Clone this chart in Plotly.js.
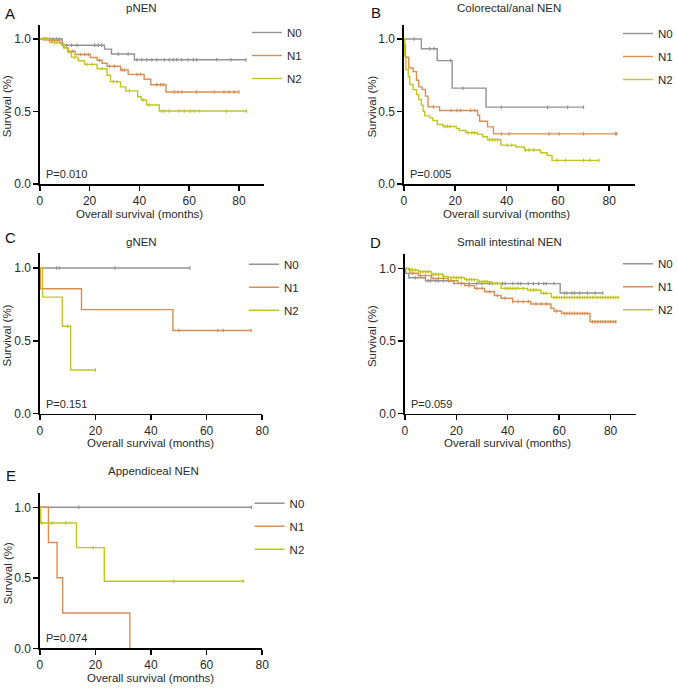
<!DOCTYPE html>
<html>
<head>
<meta charset="utf-8">
<script src="https://cdn.plot.ly/plotly-3.0.1.min.js"></script>
<style>
  html, body { margin: 0; padding: 0; background: #fff; }
  #chart { width: 678px; height: 688px; }
</style>
</head>
<body>
<div id="chart"></div>
<script>
// Kaplan-Meier curves by N stage, five NEN sites.
// Each curve: step times (months), survival from that time on, and censor times.
// The last t/s pair is the end of follow-up.

// --- A: pNEN ---
const aN0_t = [0, 9, 26, 28.8, 38, 83];
const aN0_s = [1, 0.957, 0.93, 0.897, 0.857, 0.857];
const aN0_c = [1.3, 2.7, 4, 5.4, 6.7, 7.8, 10.7, 12.7, 15, 22, 23.5, 24.8, 31.5, 35.5, 39, 41, 43, 45, 47, 50, 52, 53.6, 55, 57, 59.6, 61.6, 63, 71, 76.8, 82.8];
const aN1_t = [0, 3.6, 8.1, 9.5, 11.2, 14.2, 20.3, 23, 25, 27, 32.4, 35.5, 41.9, 44.6, 50.7, 80];
const aN1_s = [1, 0.99, 0.97, 0.94, 0.915, 0.893, 0.872, 0.853, 0.833, 0.812, 0.786, 0.756, 0.722, 0.685, 0.634, 0.634];
const aN1_c = [2, 5, 13.3, 16.5, 18, 19.5, 24, 28, 30, 33, 34, 39, 40.5, 47, 48.5, 49.5, 54, 55.5, 57, 63, 70, 74, 76, 78, 80];
const aN2_t = [0, 4, 8.7, 9.8, 11.4, 12.7, 15.4, 18, 23, 27, 28.4, 32.4, 34.5, 39.3, 40.8, 42.9, 48, 83];
const aN2_s = [1, 0.975, 0.96, 0.94, 0.907, 0.875, 0.85, 0.825, 0.795, 0.75, 0.706, 0.67, 0.642, 0.602, 0.579, 0.545, 0.503, 0.503];
const aN2_c = [2, 3, 6, 7, 14, 19, 21, 25, 29.5, 31, 36, 41.5, 44, 49, 50, 52, 56, 58, 60.5, 62, 64, 75, 83];

// --- B: Colorectal/anal NEN ---
const bN0_t = [0, 6.8, 13, 18.8, 32, 70];
const bN0_s = [1, 0.933, 0.851, 0.661, 0.53, 0.53];
const bN0_c = [4, 10, 11.7, 18.2, 23, 38, 56, 63.8, 70];
const bN1_t = [0, 0.3, 0.6, 1.9, 3.6, 4.9, 5.8, 7.1, 8.4, 9.4, 13.9, 28.7, 29.5, 32.6, 34.9, 83];
const bN1_s = [1, 0.96, 0.874, 0.8, 0.775, 0.716, 0.67, 0.651, 0.606, 0.532, 0.507, 0.475, 0.433, 0.394, 0.346, 0.346];
const bN1_c = [11.5, 18.4, 20.7, 22, 26, 27.7, 38, 41, 56.6, 60.5, 70, 82.5, 83];
const bN2_t = [0, 0.2, 0.8, 1.7, 2.3, 3.6, 4.9, 5.8, 6.8, 7.5, 8.1, 10.1, 11.3, 13, 15.2, 20.4, 21.6, 24.2, 28.7, 30.7, 32.6, 37.8, 43.6, 47, 53.2, 55.8, 57.7, 76];
const bN2_s = [1, 0.88, 0.79, 0.74, 0.686, 0.651, 0.617, 0.583, 0.544, 0.502, 0.47, 0.456, 0.438, 0.41, 0.397, 0.383, 0.369, 0.353, 0.342, 0.326, 0.305, 0.268, 0.255, 0.234, 0.216, 0.197, 0.163, 0.163];
const bN2_c = [16, 17, 18, 25, 26.5, 27.5, 33.5, 34.5, 35.5, 36.5, 40.3, 42, 47.4, 48.7, 50.6, 59.7, 63, 70, 72.5, 76];

// --- C: gNEN ---
const cN0_t = [0, 54];
const cN0_s = [1, 1];
const cN0_c = [6, 7, 27, 54];
const cN1_t = [0, 0.2, 15, 47.9, 76];
const cN1_s = [1, 0.857, 0.714, 0.571, 0.571];
const cN1_c = [50, 64, 66, 76];
const cN2_t = [0, 1, 8.1, 11.1, 20];
const cN2_s = [1, 0.8, 0.6, 0.3, 0.3];
const cN2_c = [10, 20];

// --- D: Small intestinal NEN ---
const dN0_t = [0, 0.3, 1.5, 8, 19, 60.4, 77];
const dN0_s = [1, 0.965, 0.935, 0.915, 0.895, 0.83, 0.83];
const dN0_c = [4, 9, 10, 12, 13, 15, 17, 22, 25, 28, 30, 33, 34, 38, 39, 42, 44, 45, 48, 50, 52, 54, 55, 58, 62, 63, 65, 66, 68, 71, 74, 77];
const dN1_t = [0, 1.9, 5.2, 10.3, 16.8, 20.6, 23.2, 27.1, 31, 34.8, 37.4, 41.9, 49, 56.8, 58, 60.9, 72, 82.3];
const dN1_s = [1, 0.966, 0.95, 0.931, 0.915, 0.897, 0.881, 0.862, 0.839, 0.812, 0.794, 0.771, 0.755, 0.725, 0.706, 0.69, 0.633, 0.633];
const dN1_c = [3, 6, 8, 11, 13, 15, 18, 22, 25, 28, 30, 33, 36, 39, 42, 44, 46, 48, 51, 53, 55, 59, 62, 63, 64, 65, 66, 67, 68, 69, 70, 71, 73, 74, 75, 76, 77, 78, 79, 80, 81, 82];
const dN2_t = [0, 1.3, 5.2, 10.3, 14.8, 16.8, 23.2, 28.4, 33.5, 37.4, 47.7, 52.9, 57, 83.2];
const dN2_s = [1, 0.989, 0.977, 0.959, 0.945, 0.936, 0.922, 0.908, 0.897, 0.862, 0.851, 0.828, 0.8, 0.8];
const dN2_c = [2, 3, 4, 6, 7, 8, 9, 11, 12, 13, 15, 18, 19, 20, 21, 22, 24, 25, 26, 27, 29, 30, 31, 32, 35, 36, 39, 40, 41, 42, 43, 44, 46, 49, 50, 51, 54, 55, 58, 59, 60, 61, 62, 63, 64, 65, 66, 67, 68, 69, 70, 71, 72, 73, 74, 75, 76, 77, 78, 79, 80, 81, 82, 83];

// --- E: Appendiceal NEN ---
const eN0_t = [0, 76.2];
const eN0_s = [1, 1];
const eN0_c = [14, 76.2];
const eN1_t = [0, 3.1, 6.2, 8.2, 32.4];
const eN1_s = [1, 0.75, 0.5, 0.25, 0];
const eN1_c = [];
const eN2_t = [0, 0.3, 13.2, 23.2, 73.2];
const eN2_s = [1, 0.889, 0.714, 0.476, 0.476];
const eN2_c = [0.7, 4.3, 9.3, 19.2, 48.2, 73.2];

const GROUPS = ["N0", "N1", "N2"];
const LETTERS = ["A", "B", "C", "D", "E"];
const TITLES = ["pNEN", "Colorectal/anal NEN", "gNEN", "Small intestinal NEN", "Appendiceal NEN"];
const PVALS = ["P=0.010", "P=0.005", "P=0.151", "P=0.059", "P=0.074"];
const XMAX = [90, 90, 80, 90, 80];
const X_TICKS = [0, 20, 40, 60, 80];
const Y_TICKS = [0, 0.5, 1];

const CURVES = [
  [[aN0_t, aN0_s, aN0_c], [aN1_t, aN1_s, aN1_c], [aN2_t, aN2_s, aN2_c]],
  [[bN0_t, bN0_s, bN0_c], [bN1_t, bN1_s, bN1_c], [bN2_t, bN2_s, bN2_c]],
  [[cN0_t, cN0_s, cN0_c], [cN1_t, cN1_s, cN1_c], [cN2_t, cN2_s, cN2_c]],
  [[dN0_t, dN0_s, dN0_c], [dN1_t, dN1_s, dN1_c], [dN2_t, dN2_s, dN2_c]],
  [[eN0_t, eN0_s, eN0_c], [eN1_t, eN1_s, eN1_c], [eN2_t, eN2_s, eN2_c]],
];

const COLORS = ["#939393", "#d98f52", "#c3c61f"];
const TEXT = "#2a2a2a";
const FONT = "Liberation Sans, Arial, Helvetica, sans-serif";

// --- layout, in pixels of the 678x688 page ---
const W = 678, H = 688;
const BOX = [            // [left, right, top, bottom]
  [40, 265, 24.5, 184],
  [405.7, 637.7, 24.5, 184],
  [40, 263.3, 253.4, 413.7],
  [406.7, 639.1, 253.8, 413.7],
  [40, 263.3, 493.2, 648.3],
];
const TITLE_POS = [[141.7, 8], [511.7, 8], [141.7, 242], [511.7, 242], [154, 471]];
const LETTER_POS = [[3, 13], [371, 12], [3, 237.5], [370, 242.5], [4, 475.5]];
const YTITLE_X = [7, 374, 7, 373, 7.5];
const LEGEND_POS = [[288, 33], [661, 34], [285, 264.7], [661, 264.3], [290.7, 503.7]];

const px = (x) => x / W;
const py = (y) => 1 - y / H;

function survivalAt(t, s, time) {
  let v = s[0];
  for (let i = 0; i < t.length; i++) if (t[i] <= time) v = s[i];
  return v;
}

const traces = [];
const layout = {
  width: W, height: H,
  margin: { l: 0, r: 0, t: 0, b: 0 },
  paper_bgcolor: "#fff", plot_bgcolor: "#fff",
  font: { family: FONT, color: TEXT, size: 11.5 },
  showlegend: true,
  annotations: [],
};

CURVES.forEach((panel, p) => {
  const sfx = p === 0 ? "" : String(p + 1);
  const xa = "x" + sfx, ya = "y" + sfx, lg = "legend" + sfx;
  const [l, r, top, bot] = BOX[p];

  layout["xaxis" + sfx] = {
    domain: [px(l), px(r)], anchor: ya, range: [0, XMAX[p]],
    tickvals: X_TICKS, ticks: "outside", ticklen: 5, tickwidth: 1.5, tickcolor: "#000",
    showline: true, linecolor: "#000", linewidth: 1.5,
    showgrid: false, zeroline: false, fixedrange: true,
    tickfont: { size: 12, color: TEXT },
  };
  layout["yaxis" + sfx] = {
    domain: [py(bot), py(top)], anchor: xa, range: [0, 1.1],
    tickvals: Y_TICKS, tickformat: ".1f", ticks: "outside", ticklen: 5, tickwidth: 1.5, tickcolor: "#000",
    showline: true, linecolor: "#000", linewidth: 1.5,
    showgrid: false, zeroline: false, fixedrange: true,
    tickfont: { size: 12, color: TEXT },
  };
  layout[lg] = {
    x: px(LEGEND_POS[p][0] - 40), y: py(LEGEND_POS[p][1] - 15),
    xanchor: "left", yanchor: "top",
    bgcolor: "rgba(0,0,0,0)", borderwidth: 0,
    font: { size: 11.5, color: TEXT },
    itemwidth: 30, tracegroupgap: 4, traceorder: "grouped",
  };

  panel.forEach(([t, s, c], g) => {
    traces.push({
      type: "scatter", mode: "lines", x: t, y: s,
      line: { shape: "hv", color: COLORS[g], width: 1.4 },
      name: GROUPS[g], legend: lg, legendgroup: LETTERS[p] + GROUPS[g],
      xaxis: xa, yaxis: ya, hoverinfo: "skip",
    });
    traces.push({
      type: "scatter", mode: "markers", x: c, y: c.map((v) => survivalAt(t, s, v)),
      marker: { symbol: "line-ns-open", size: 2.5, color: COLORS[g], line: { width: 1.2, color: COLORS[g] } },
      showlegend: false, legend: lg, legendgroup: LETTERS[p] + GROUPS[g],
      xaxis: xa, yaxis: ya, hoverinfo: "skip", cliponaxis: false,
    });
  });

  const ann = layout.annotations;
  ann.push({ text: LETTERS[p], xref: "paper", yref: "paper", x: px(LETTER_POS[p][0]), y: py(LETTER_POS[p][1]),
    xanchor: "left", yanchor: "middle", showarrow: false, font: { size: 15, color: "#111" } });
  ann.push({ text: TITLES[p], xref: "paper", yref: "paper", x: px(TITLE_POS[p][0]), y: py(TITLE_POS[p][1]),
    xanchor: "center", yanchor: "middle", showarrow: false, font: { size: 11.5 } });
  ann.push({ text: "Survival (%)", xref: "paper", yref: "paper", x: px(YTITLE_X[p]), y: py((top + bot) / 2 + 2),
    xanchor: "center", yanchor: "middle", textangle: -90, showarrow: false, font: { size: 11.5 } });
  ann.push({ text: "Overall survival (months)", xref: xa, yref: ya + " domain", x: 40, y: 0, yshift: -29.5,
    xanchor: "center", yanchor: "middle", showarrow: false, font: { size: 11.5 } });
  ann.push({ text: PVALS[p], xref: xa + " domain", yref: ya + " domain", x: 0, y: 0, xshift: 4, yshift: 10,
    xanchor: "left", yanchor: "middle", showarrow: false, font: { size: 11 } });
});

Plotly.newPlot("chart", traces, layout, { displayModeBar: false, staticPlot: true });
</script>
</body>
</html>
